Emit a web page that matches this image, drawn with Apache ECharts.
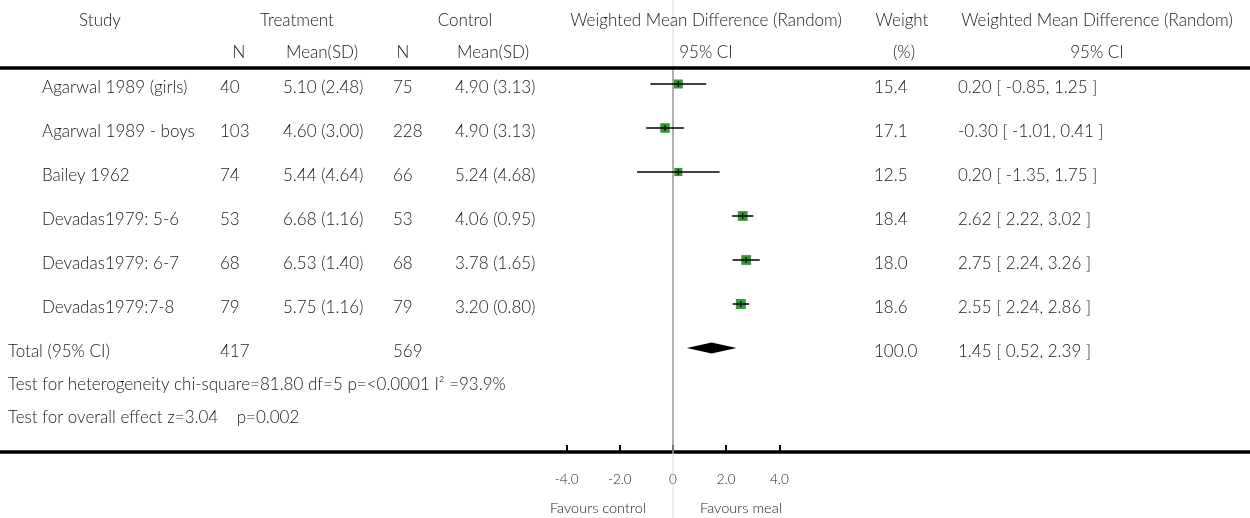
<!DOCTYPE html>
<html><head><meta charset="utf-8">
<script src="https://cdn.jsdelivr.net/npm/echarts@6/dist/echarts.min.js"></script>
<style>html,body{margin:0;padding:0;background:#fff}#c{width:1250px;height:518px}</style>
</head><body><div id="c"></div>
<script>
// ---- data ----
const studies = ['Agarwal 1989 (girls)','Agarwal 1989 - boys','Bailey 1962','Devadas1979: 5-6','Devadas1979: 6-7','Devadas1979:7-8'];
const treatN = [40,103,74,53,68,79];
const treatMean = ['5.10 (2.48)','4.60 (3.00)','5.44 (4.64)','6.68 (1.16)','6.53 (1.40)','5.75 (1.16)'];
const ctrlN = [75,228,66,53,68,79];
const ctrlMean = ['4.90 (3.13)','4.90 (3.13)','5.24 (4.68)','4.06 (0.95)','3.78 (1.65)','3.20 (0.80)'];
const wmd = [0.20,-0.30,0.20,2.62,2.75,2.55];
const ciLow = [-0.85,-1.01,-1.35,2.22,2.24,2.24];
const ciHigh = [1.25,0.41,1.75,3.02,3.26,2.86];
const weights = [15.4,17.1,12.5,18.4,18.0,18.6];
const totalLabel = 'Total (95% CI)';
const totalTreatN = 417, totalCtrlN = 569;
const totalWmd = 1.45, totalLow = 0.52, totalHigh = 2.39, totalWeight = 100.0;
const heterogeneityText = 'Test for heterogeneity chi-square=81.80 df=5 p=<0.0001 I² =93.9%';
const overallText = 'Test for overall effect z=3.04    p=0.002';
const headers1 = ['Study','Treatment','Control','Weighted Mean Difference (Random)','Weight','Weighted Mean Difference (Random)'];
const headers2 = ['N','Mean(SD)','N','Mean(SD)','95% CI','(%)','95% CI'];
const xTicks = [-4,-2,0,2,4];
const favours = ['Favours control','Favours meal'];

// ---- layout ----
const FONT = 'Lato, "DejaVu Sans", sans-serif';
const FW = '300';
const TXT = '#1a1a1a';
const FS = 17;
const PXU = 26.6, ZERO = 673, ROW0 = 84, ROWH = 44, AXY = 452, TOFF = 4;
const totalRow = studies.length;

const chart = echarts.init(document.getElementById('c'), null, {renderer:'canvas'});

const ciData = studies.map((s,i)=>[ciLow[i], ciHigh[i], i, wmd[i]]);
const sqData = studies.map((s,i)=>[wmd[i], i, weights[i]]);

chart.setOption({
  animation:false,
  grid:{left:0,right:0,top:0,bottom:518-AXY},
  xAxis:{
    type:'value', min:-ZERO/PXU, max:(1250-ZERO)/PXU,
    splitLine:{show:false},
    axisLine:{onZero:false, lineStyle:{color:'#000',width:3.5}},
    axisTick:{customValues:xTicks, inside:true, length:7, lineStyle:{color:'#000',width:2}},
    axisLabel:{customValues:xTicks, margin:21, fontSize:13.5, fontFamily:FONT, fontWeight:FW, color:'#222',
      formatter:v=> v===0 ? '0' : v.toFixed(1)}
  },
  yAxis:{type:'value', inverse:true, show:false, min:-ROW0/ROWH, max:(AXY-ROW0)/ROWH},
  series:[
    {type:'scatter', data:sqData, symbol:'rect', z:2,
     symbolSize:d=>Math.sqrt(d[2])*2.3, itemStyle:{color:'#008000'}},
    {type:'custom', z:3, data:ciData,
     renderItem:(params,api)=>{
       const a=api.coord([api.value(0),api.value(2)]);
       const b=api.coord([api.value(1),api.value(2)]);
       const m=api.coord([api.value(3),api.value(2)]);
       return {type:'group',children:[
         {type:'line',shape:{x1:a[0],y1:a[1],x2:b[0],y2:b[1]},style:{stroke:'#000',lineWidth:1.5}},
         {type:'line',shape:{x1:m[0],y1:m[1]-3,x2:m[0],y2:m[1]+3},style:{stroke:'#000',lineWidth:1.2}}
       ]};
     }},
    {type:'custom', z:3, data:[[totalLow,totalWmd,totalHigh,totalRow]],
     renderItem:(params,api)=>{
       const r=api.value(3);
       const l=api.coord([api.value(0),r]), c=api.coord([api.value(1),r]), h=api.coord([api.value(2),r]);
       return {type:'polygon',shape:{points:[[l[0],l[1]],[c[0],c[1]-5.5],[h[0],h[1]],[c[0],c[1]+5.5]]},style:{fill:'#000'}};
     }}
  ]
});

// ---- table text & rules ----
const g=[];
const rowY = i => chart.convertToPixel({yAxisIndex:0}, i) + TOFF;
const x0 = chart.convertToPixel({xAxisIndex:0}, 0);
function txt(t,x,y,align,size){g.push({type:'text',x:x,y:y,z:10,style:{text:String(t),fill:TXT,font:FW+' '+(size||FS)+'px '+FONT,align:align||'left',verticalAlign:'middle'}});}
function ln(x1,y1,x2,y2,w,c,z){g.push({type:'line',z:z||1,shape:{x1,y1,x2,y2},style:{stroke:c,lineWidth:w}});}

// zero line
ln(x0,0,x0,68,1,'#d8d8d8');
ln(x0,68,x0,AXY,1.5,'#999');
ln(x0,AXY,x0,518,1,'#d8d8d8');
// top rule
ln(0,68,1250,68,3.5,'#000',5);

// headers
const hx1=[100,297,465,706,902,1097];
headers1.forEach((h,i)=>txt(h,hx1[i],21,'center'));
const hx2=[239,322,403,493,706,904,1097];
headers2.forEach((h,i)=>txt(h,hx2[i],53,'center'));

studies.forEach((s,i)=>{
  const y=rowY(i);
  txt(s,42,y);
  txt(treatN[i],220,y);
  txt(treatMean[i],283,y);
  txt(ctrlN[i],393,y);
  txt(ctrlMean[i],455,y);
  txt(weights[i].toFixed(1),874,y);
  txt(wmd[i].toFixed(2)+' [ '+ciLow[i].toFixed(2)+', '+ciHigh[i].toFixed(2)+' ]',958,y);
});
const ty=rowY(totalRow);
txt(totalLabel,8,ty);
txt(totalTreatN,220,ty);
txt(totalCtrlN,393,ty);
txt(totalWeight.toFixed(1),874,ty);
txt(totalWmd.toFixed(2)+' [ '+totalLow.toFixed(2)+', '+totalHigh.toFixed(2)+' ]',958,ty);
txt(heterogeneityText,8,385);
txt(overallText,8,418);
txt(favours[0],598,508,'center',14.5);
txt(favours[1],741,508,'center',14.5);

chart.setOption({graphic:{elements:g}});
</script></body></html>
